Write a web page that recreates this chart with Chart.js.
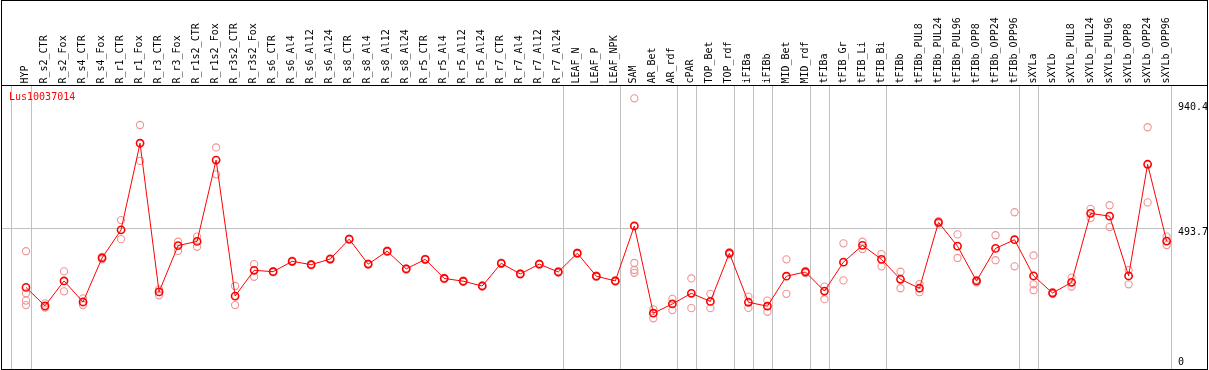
<!DOCTYPE html>
<html><head><meta charset="utf-8">
<script src="https://cdn.jsdelivr.net/npm/chart.js@4/dist/chart.umd.min.js"></script>
<style>html,body{margin:0;padding:0;background:#fff;overflow:hidden}canvas{display:block}</style>
</head><body>
<canvas id="c" width="1209" height="370" style="width:1209px;height:370px"></canvas>
<script>
const geneName = "Lus10037014";
const categories = ["HYP","R_s2_CTR","R_s2_Fox","R_s4_CTR","R_s4_Fox","R_r1_CTR","R_r1_Fox","R_r3_CTR","R_r3_Fox","R_r1s2_CTR","R_r1s2_Fox","R_r3s2_CTR","R_r3s2_Fox","R_s6_CTR","R_s6_Al4","R_s6_Al12","R_s6_Al24","R_s8_CTR","R_s8_Al4","R_s8_Al12","R_s8_Al24","R_r5_CTR","R_r5_Al4","R_r5_Al12","R_r5_Al24","R_r7_CTR","R_r7_Al4","R_r7_Al12","R_r7_Al24","LEAF_N","LEAF_P","LEAF_NPK","SAM","AR_Bet","AR_rdf","cPAR","TOP_Bet","TOP_rdf","iFIBa","iFIBb","MID_Bet","MID_rdf","tFIBa","tFIB_Gr","tFIB_Li","tFIB_Bi","tFIBb","tFIBb_PUL8","tFIBb_PUL24","tFIBb_PUL96","tFIBb_OPP8","tFIBb_OPP24","tFIBb_OPP96","sXYLa","sXYLb","sXYLb_PUL8","sXYLb_PUL24","sXYLb_PUL96","sXYLb_OPP8","sXYLb_OPP24","sXYLb_OPP96"];
const means = [282,216,305,230,387,487,796,266,431,446,736,251,343,338,375,363,383,454,365,411,348,382,314,304,287,368,330,365,337,404,322,305,501,190,223,261,232,404,229,215,322,337,269,372,432,382,311,279,514,429,305,421,452,323,262,300,546,536,323,721,447];
const replicates = [[411,261,235,219],[225,213,210],[339,268],[243,219],[391,382],[522,454],[861,733],[275,254],[445,412],[463,427],[781,685],[287,219],[365,320],[340,336],[377,373],[365,361],[385,381],[456,452],[367,363],[413,409],[350,346],[384,380],[316,312],[306,302],[289,285],[370,366],[332,328],[367,363],[339,335],[406,402],[324,320],[307,303],[956,369,344,334],[204,172],[241,201],[314,208],[259,208],[408,400],[249,209],[235,195],[382,259],[341,333],[285,240],[439,307],[445,419],[401,357],[338,279],[294,265],[518,510],[471,387],[309,300],[468,379],[550,357],[396,293,272],[265,259],[317,285],[562,529],[575,497],[344,293],[853,585],[463,433]];
const axisTickValues = [0, 493.7, 940.4];
const gridValue = 493.7;
// index of the last column in each group (-1 = left edge)
const groupEnds = [-1,0,28,31,34,35,37,38,39,41,42,45,52,53,60];

const FONT = '10px "DejaVu Sans Mono", monospace';
const meanPts = means.map((v,i)=>({x:i,y:v}));
const repPts = [];
replicates.forEach((arr,i)=>arr.forEach(v=>repPts.push({x:i,y:v})));

const deco = {
  id:'deco',
  beforeDatasetsDraw(chart){
    const {ctx, chartArea:a, scales:{x,y}} = chart;
    ctx.save();
    ctx.strokeStyle = '#c0c0c0'; ctx.lineWidth = 1;
    groupEnds.forEach(g=>{
      const px = Math.round(x.getPixelForValue(g+0.237))+0.5;
      ctx.beginPath(); ctx.moveTo(px,a.top); ctx.lineTo(px,a.bottom); ctx.stroke();
    });
    const gy = Math.round(y.getPixelForValue(gridValue))+0.5;
    ctx.beginPath(); ctx.moveTo(a.left,gy); ctx.lineTo(a.right,gy); ctx.stroke();
    ctx.restore();
  },
  afterDraw(chart){
    const {ctx, chartArea:a, scales:{x,y}} = chart;
    ctx.save();
    ctx.font = FONT;
    ctx.fillStyle = '#000';
    categories.forEach((c,i)=>{
      const px = x.getPixelForValue(i) - 0.5;
      ctx.save();
      ctx.translate(px, 83.5);
      ctx.rotate(-Math.PI/2);
      ctx.textAlign='left'; ctx.textBaseline='middle';
      ctx.fillText(c,0,0);
      ctx.restore();
    });
    ctx.textAlign='left'; ctx.textBaseline='middle';
    axisTickValues.forEach(v=>{
      let py = y.getPixelForValue(v)+4.2;
      py = Math.min(py, a.bottom-6.5);
      ctx.fillText(String(v), 1178, py);
    });
    ctx.fillStyle = '#ff0000';
    ctx.fillText(geneName, 9, 97.5);
    ctx.strokeStyle='#000'; ctx.lineWidth=1;
    ctx.strokeRect(1.5,0.5,1206,369);
    ctx.beginPath(); ctx.moveTo(1,85.5); ctx.lineTo(1208,85.5); ctx.stroke();
    ctx.restore();
  }
};

new Chart(document.getElementById('c'), {
  type:'scatter',
  data:{datasets:[
    {label:'mean', data:meanPts, showLine:true, borderColor:'#ff0000', borderWidth:1,
     pointRadius:3.6, pointBorderWidth:1.6, pointBorderColor:'#ff0000', pointBackgroundColor:'rgba(0,0,0,0)', order:0},
    {label:'replicates', data:repPts, showLine:false, pointRadius:3.6, pointBorderWidth:1.1,
     pointBorderColor:'#ef9494', pointBackgroundColor:'rgba(0,0,0,0)', order:1}
  ]},
  options:{
    responsive:false, animation:false, devicePixelRatio:1,
    layout:{autoPadding:false, padding:{left:1,right:38,top:85,bottom:1}},
    plugins:{legend:{display:false}, tooltip:{enabled:false}},
    scales:{
      x:{type:'linear', display:false, min:-1.315, max:60.23},
      y:{type:'linear', display:false, min:-8.9, max:1003.6}
    }
  },
  plugins:[deco]
});
</script></body></html>
